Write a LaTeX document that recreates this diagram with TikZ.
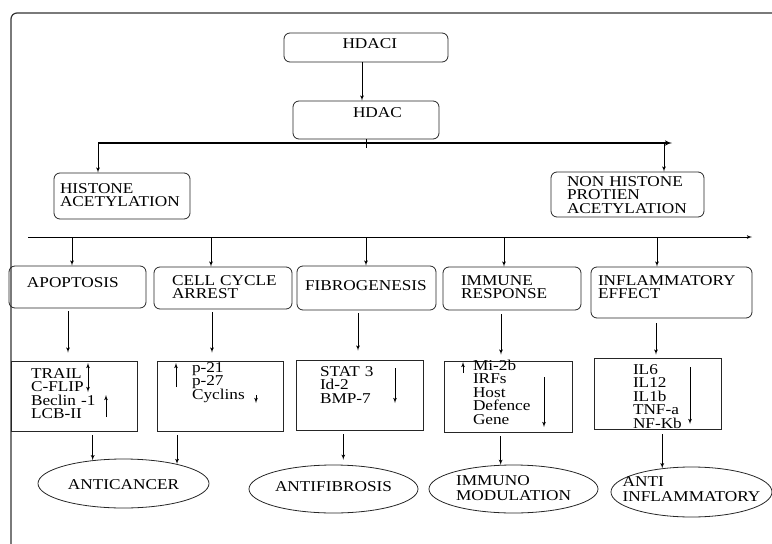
\documentclass[tikz,border=0pt]{standalone}
\usepackage{fontspec}
\setmainfont{Liberation Serif}[FakeStretch=1.15]
\usetikzlibrary{arrows,shapes}
\newcommand{\diagfont}{\fontsize{15pt}{13.5pt}\selectfont\lineskiplimit=-50pt\hyphenpenalty=10000\exhyphenpenalty=10000\relax}

\begin{document}
\begin{tikzpicture}[x=1pt,y=-1pt,line width=0.8pt,
  lift/.style={text height=0pt,text depth=#1},
  drop/.style={text height=#1,text depth=0pt}]
\tikzstyle{every node}=[font=\diagfont,text=black]
\tikzstyle{rbox}=[draw=black!85,rounded corners=6pt,align=left,inner ysep=0pt]
\tikzstyle{lbox}=[draw=black!85,align=left,inner ysep=0pt]
\tikzstyle{oval}=[draw=black!85,ellipse,align=left,inner xsep=-20pt,inner ysep=0pt]
\useasboundingbox (0,0) rectangle (772,544);
\draw[black!80,line width=1.2pt,rounded corners=6pt] (11,544) -- (11,13) -- (772,13);

\node (hdaci) at (366,47.5) [rbox,minimum width=164pt,minimum height=29pt,text width=47pt,inner xsep=58.5pt,drop=1.4pt] {HDACI};
\node (hdac) at (366,120) [rbox,minimum width=146pt,minimum height=38pt,text width=26pt,inner xsep=60pt,lift=5.6pt] {HDAC};

\node (hist) at (122,196) [rbox,minimum width=136pt,minimum height=46pt,text width=124pt,inner xsep=6pt,lift=5.6pt] {HISTONE\\ACETYLATION};
\node (nonh) at (627.5,194.5) [rbox,minimum width=153pt,minimum height=45pt,text width=121pt,inner xsep=16pt,lift=16.6pt] {NON~HISTONE\\PROTIEN\\ACETYLATION};

\node (apop) at (77.5,287) [rbox,minimum width=137pt,minimum height=42pt,text width=101pt,inner xsep=18pt,drop=0.4pt] {APOPTOSIS};
\node (cell) at (223,288) [rbox,minimum width=138pt,minimum height=42pt,text width=102pt,inner xsep=18pt,lift=5.6pt] {CELL~CYCLE\\ARREST};
\node (fibro) at (366.5,288) [rbox,minimum width=139pt,minimum height=44pt,text width=123pt,inner xsep=8pt,drop=4.4pt] {FIBROGENESIS};
\node (immune) at (512,288.5) [rbox,minimum width=138pt,minimum height=43pt,text width=102pt,inner xsep=18pt,lift=6.6pt] {IMMUNE\\RESPONSE};
\node (infl) at (671.5,292.5) [rbox,minimum width=161pt,minimum height=51pt,text width=147pt,inner xsep=7pt,lift=14.6pt] {INFLAMMATORY\\EFFECT};

\node (r1) at (74,396) [lbox,minimum width=126pt,minimum height=70pt,text width=86pt,inner xsep=20pt,lift=35.6pt] {TRAIL\\C-FLIP\\Beclin~-1\\LCB-II};
\node (r2) at (220,396) [lbox,minimum width=126pt,minimum height=70pt,text width=56pt,inner xsep=35pt,lift=47.6pt] {p-21\\p-27\\Cyclins};
\node (r3) at (359.5,395) [lbox,minimum width=127pt,minimum height=70pt,text width=79pt,inner xsep=24pt,lift=37.6pt] {STAT~3\\Id-2\\BMP-7};
\node (r4) at (508,396.5) [lbox,minimum width=128pt,minimum height=71pt,text width=70pt,inner xsep=29pt,lift=52.6pt] {Mi-2b\\IRFs\\Host\\Defence\\Gene};
\node (r5) at (657.5,393.5) [lbox,minimum width=127pt,minimum height=71pt,text width=49pt,inner xsep=39pt,lift=38.6pt] {IL6\\IL12\\IL1b\\TNF-a\\NF-Kb};

\node (ac) at (123.5,483.5) [oval,minimum width=171pt,minimum height=49pt,drop=11.4pt] {ANTICANCER};
\node (af) at (333.5,489) [oval,minimum width=169pt,minimum height=48pt,drop=4.4pt] {ANTIFIBROSIS};
\node (im) at (513.5,489) [oval,minimum width=169pt,minimum height=48pt,drop=22.4pt] {IMMUNO\\[1.5pt]MODULATION};
\node (ai) at (691.5,492) [oval,minimum width=161pt,minimum height=50pt,drop=18.4pt] {ANTI\\[1.5pt]INFLAMMATORY};

% top part
\path [draw,-latex'] ([xshift=-4pt]hdaci.south) -- ([xshift=-4pt]hdac.north);
\coordinate (barL) at (98,143);
\coordinate (barR) at (672,143);
\path [draw,-latex',line width=1.4pt] (barL) -- (barR);
\path [draw] (hdac.south) -- ++(0,9);
\path [draw,-latex'] (barL) -- (barL |- hist.north);
\path [draw,-latex'] ([xshift=36.5pt]nonh.north |- barL) -- ([xshift=36.5pt]nonh.north);

% effects row
\coordinate (spL) at (28,237);
\coordinate (spR) at (752,237);
\path [draw,-latex'] (spL) -- (spR);
\path [draw,-latex'] ([xshift=-5.5pt]apop.north |- spL) -- ([xshift=-5.5pt]apop.north);
\path [draw,-latex'] ([xshift=-12pt]cell.north |- spL) -- ([xshift=-12pt]cell.north);
\path [draw,-latex'] ([xshift=-0.5pt]fibro.north |- spL) -- ([xshift=-0.5pt]fibro.north);
\path [draw,-latex'] ([xshift=-8pt]immune.north |- spL) -- ([xshift=-8pt]immune.north);
\path [draw,-latex'] ([xshift=-14.5pt]infl.north |- spL) -- ([xshift=-14.5pt]infl.north);

\path [draw,-latex',shorten <=3pt,shorten >=8pt] ([xshift=-9.5pt]apop.south) -- ([xshift=-9.5pt]apop.south |- r1.north);
\path [draw,-latex',shorten <=3pt,shorten >=8pt] ([xshift=-11pt]cell.south) -- ([xshift=-11pt]cell.south |- r2.north);
\path [draw,-latex',shorten <=3pt,shorten >=9pt] ([xshift=-8.5pt]fibro.south) -- ([xshift=-8.5pt]fibro.south |- r3.north);
\path [draw,-latex',shorten <=4pt,shorten >=6pt] ([xshift=-11pt]immune.south) -- ([xshift=-11pt]immune.south |- r4.north);
\path [draw,-latex',shorten <=5pt,shorten >=3pt] ([xshift=-15.5pt]infl.south) -- ([xshift=-15.5pt]infl.south |- r5.north);

% up / down marks
\path [draw,latex'-latex'] (88,363) -- (88,392);
\path [draw,-latex'] (106,417) -- (106,395);
\path [draw,-latex'] (176,387) -- (176,363);
\path [draw,-latex'] (256,395) -- (256,403);
\path [draw,-latex'] (395,368) -- (395,403);
\path [draw,-latex'] (463,373) -- (463,362);
\path [draw,-latex'] (544,377) -- (544,427);
\path [draw,-latex'] (690,367) -- (690,424);

\path [draw,-latex',shorten <=4pt] (r1.south -| ac.143) -- (ac.143);
\path [draw,-latex',shorten <=4pt] (r2.south -| ac.20) -- (ac.20);
\path [draw,-latex',shorten <=4pt,shorten >=5pt] (r3.south -| af.68) -- (af.68);
\path [draw,-latex',shorten <=4pt] (r4.south -| im.118) -- (im.118);
\path [draw,-latex',shorten <=5pt] (r5.south -| ai.141) -- (ai.141);

\end{tikzpicture}
\end{document}
